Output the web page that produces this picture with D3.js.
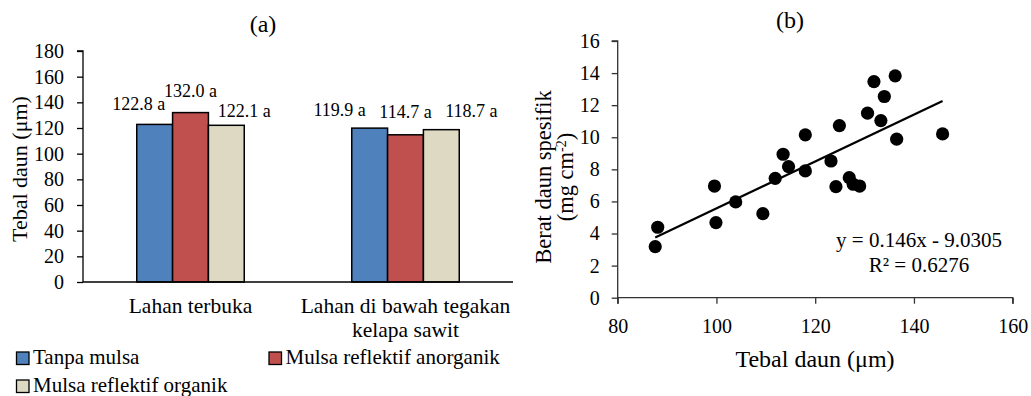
<!DOCTYPE html>
<html><head><meta charset="utf-8">
<script src="https://cdn.jsdelivr.net/npm/d3@7"></script>
<style>
body{margin:0;background:#fff;}
svg text{font-family:"Liberation Serif","Times New Roman",Times,Tinos,"DejaVu Serif","Noto Serif",serif !important;fill:#000;}
</style></head>
<body>
<svg id="c" width="1031" height="396"></svg>
<script>
// ---- Data (a) ----
const categories = ["Lahan terbuka", "Lahan di bawah tegakan|kelapa sawit"];
const seriesNames = ["Tanpa mulsa", "Mulsa reflektif anorganik", "Mulsa reflektif organik"];
const seriesColors = ["#4F81BD", "#C0504D", "#DDD9C3"];
const tanpaMulsa = [122.8, 119.9];
const mulsaAnorganik = [132.0, 114.7];
const mulsaOrganik = [122.1, 118.7];
const letters = [["a","a","a"],["a","a","a"]];
const yTicksA = [0,20,40,60,80,100,120,140,160,180];

// ---- Data (b) ----
const tebalDaun = [87.6, 88.1, 99.6, 99.9, 103.9, 109.4, 111.9, 113.5, 114.6, 118.0, 118.0, 123.2, 124.2, 124.9, 126.9, 127.7, 129.0, 130.6, 131.9, 133.3, 134.0, 136.2, 136.5, 145.8];
const beratDaun = [3.18, 4.39, 6.96, 4.68, 5.97, 5.24, 7.44, 8.94, 8.17, 10.15, 7.90, 8.52, 6.92, 10.73, 7.48, 7.07, 6.96, 11.50, 13.47, 11.04, 12.54, 13.83, 9.88, 10.21];
const slope = 0.146, intercept = -9.0305;
const eqLabel = "y = 0.146x - 9.0305";
const r2Label = "R² = 0.6276";
const xTicksB = [80,100,120,140,160];
const yTicksB = [0,2,4,6,8,10,12,14,16];

const FF = '"Liberation Serif","Times New Roman",Times,Tinos,"DejaVu Serif","Noto Serif",serif';
const svg = d3.select("#c");
const FONT = 20;

// ================= Chart (a) =================
const ax0 = 83, ax1 = 513, ayTop = 51, ayBot = 282;
const yA = d3.scaleLinear().domain([0,180]).range([ayBot, ayTop]);
const xA = d3.scaleBand().domain(categories).range([ax0, ax1]).paddingInner(0.5).paddingOuter(0.25);
const xS = d3.scaleBand().domain(seriesNames).range([0, xA.bandwidth()]);
const valuesA = [tanpaMulsa, mulsaAnorganik, mulsaOrganik];

const gA = svg.append("g");
// y axis
const yAxisA = d3.axisLeft(yA).tickValues(yTicksA).tickSize(6).tickPadding(13);
gA.append("g").attr("transform", `translate(${ax0},0)`).call(yAxisA)
  .call(g => { g.attr("font-family", FF); g.selectAll("text").style("font-size", FONT+"px"); g.selectAll("path,line").attr("stroke","#000").attr("stroke-width",1.3); g.select(".domain").attr("d", `M-6,${ayTop}H0V${ayBot}`); });

// bars
categories.forEach((c, ci) => {
  seriesNames.forEach((s, si) => {
    const v = valuesA[si][ci];
    gA.append("rect")
      .attr("x", xA(c) + xS(s))
      .attr("y", yA(v))
      .attr("width", xS.bandwidth())
      .attr("height", yA(0) - yA(v))
      .attr("fill", seriesColors[si])
      .attr("stroke", "#000").attr("stroke-width", 1.5);
  });
});
// x axis line
gA.append("line").attr("x1", ax0).attr("x2", ax1).attr("y1", yA(0)).attr("y2", yA(0)).attr("stroke","#000").attr("stroke-width",1.3);

// data labels (manual placement offsets like original)
const lblDx = [[-16, 0, 18], [-30, 0, 30]];
const lblDy = [[-14, -16, -8], [-12, -17, -13]];
categories.forEach((c, ci) => {
  seriesNames.forEach((s, si) => {
    const v = valuesA[si][ci];
    gA.append("text")
      .attr("x", xA(c) + xS(s) + xS.bandwidth()/2 + lblDx[ci][si])
      .attr("y", yA(v) + lblDy[ci][si])
      .attr("text-anchor", "middle")
      .style("font-size", "18px")
      .text(v.toFixed(1) + " " + letters[ci][si]);
  });
});

// category labels
categories.forEach((c) => {
  const lines = c.split("|");
  lines.forEach((ln, i) => {
    gA.append("text").attr("x", xA(c) + xA.bandwidth()/2).attr("y", 313 + i*24)
      .attr("text-anchor","middle").style("font-size","21.5px").text(ln);
  });
});

// y title
gA.append("text").attr("transform", `translate(27,169) rotate(-90)`).attr("text-anchor","middle")
  .style("font-size","22px").text("Tebal daun (μm)");
// title
gA.append("text").attr("x", 263).attr("y", 32).attr("text-anchor","middle").style("font-size","24px").text("(a)");

// legend
const legPos = [[16.5, 352], [269, 352], [16.5, 380]];
seriesNames.forEach((s, i) => {
  const [lx, ly] = legPos[i];
  gA.append("rect").attr("x", lx).attr("y", ly).attr("width", 12.5).attr("height", 12.5)
    .attr("fill", seriesColors[i]).attr("stroke","#000").attr("stroke-width",1.3);
  gA.append("text").attr("x", lx + 16.5).attr("y", ly + 11.5).style("font-size","21px").text(s);
});

// ================= Chart (b) =================
const bx0 = 617.7, bx1 = 1012.7, byTop = 41, byBot = 297.7;
const xB = d3.scaleLinear().domain([80,160]).range([bx0, bx1]);
const yB = d3.scaleLinear().domain([0,16]).range([byBot, byTop]);
const gB = svg.append("g");

gB.append("g").attr("transform", `translate(${bx0},0)`).call(d3.axisLeft(yB).tickValues(yTicksB).tickSize(6).tickPadding(12))
  .call(g => { g.attr("font-family", FF); g.selectAll("text").style("font-size", FONT+"px"); g.selectAll("path,line").attr("stroke","#333").attr("stroke-width",1.3); g.select(".domain").attr("d", `M-6,${byTop}H0V${byBot}`); });
gB.append("g").attr("transform", `translate(0,${byBot})`).call(d3.axisBottom(xB).tickValues(xTicksB).tickSize(6).tickPadding(15))
  .call(g => { g.attr("font-family", FF); g.selectAll("text").style("font-size", FONT+"px"); g.selectAll("path,line").attr("stroke","#333").attr("stroke-width",1.3); g.select(".domain").attr("d", `M${bx0},6V0H${bx1}V6`); });

// trendline
const xmin = d3.min(tebalDaun), xmax = d3.max(tebalDaun);
gB.append("line").attr("x1", xB(xmin)).attr("y1", yB(slope*xmin + intercept))
  .attr("x2", xB(xmax)).attr("y2", yB(slope*xmax + intercept))
  .attr("stroke","#000").attr("stroke-width",2.2);

// points
gB.selectAll("circle.pt").data(tebalDaun.map((x,i)=>[x, beratDaun[i]])).enter().append("circle")
  .attr("cx", d => xB(d[0])).attr("cy", d => yB(d[1])).attr("r", 6.6).attr("fill","#000");

// equation
gB.append("text").attr("x", 919).attr("y", 247).attr("text-anchor","middle").style("font-size","21px").text(eqLabel);
gB.append("text").attr("x", 919).attr("y", 272).attr("text-anchor","middle").style("font-size","21px").text(r2Label);

// titles
gB.append("text").attr("x", 790).attr("y", 28).attr("text-anchor","middle").style("font-size","24px").text("(b)");
gB.append("text").attr("x", 815).attr("y", 367).attr("text-anchor","middle").style("font-size","24px").text("Tebal daun (μm)");
const yt = gB.append("text").attr("transform", `translate(551,177) rotate(-90)`).attr("text-anchor","middle").style("font-size","22.5px");
yt.append("tspan").attr("x",0).attr("dy",0).text("Berat daun spesifik");
yt.append("tspan").attr("x",0).attr("dy",22).text("(mg cm");
yt.append("tspan").attr("dy",-7).style("font-size","14px").text("-2");
yt.append("tspan").attr("dy",7).text(")");

svg.selectAll("text").attr("font-family", FF);
</script>
</body></html>
